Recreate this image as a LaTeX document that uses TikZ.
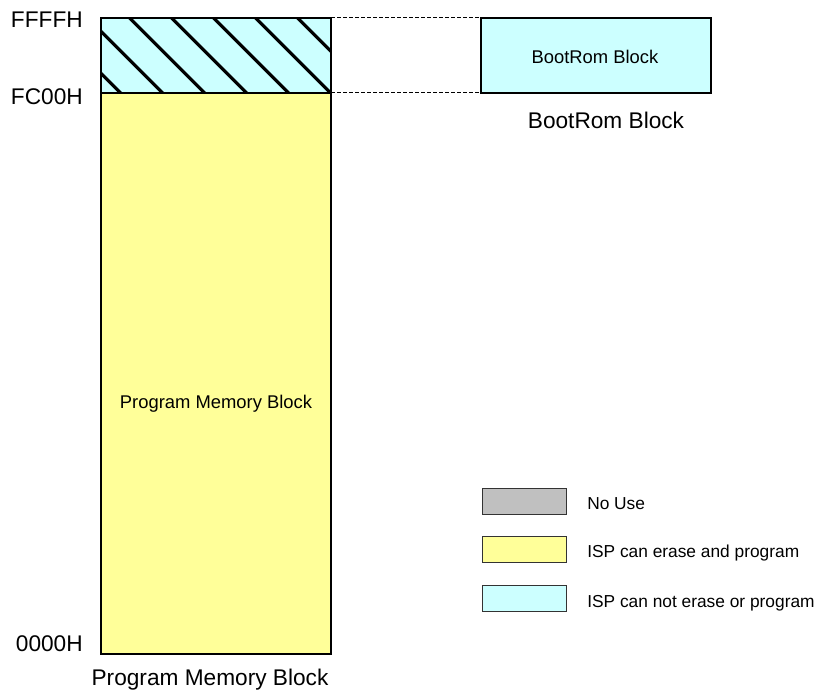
\documentclass[tikz,border=0pt]{standalone}
\usepackage{fontspec}
\setmainfont{Liberation Sans}
\definecolor{romcyan}{HTML}{CCFFFF}
\definecolor{progyellow}{HTML}{FFFF99}
\definecolor{nousegray}{HTML}{C0C0C0}
\begin{document}
\begin{tikzpicture}[x=0.75pt,y=-0.75pt,
  blk/.style={draw=black,line width=1.5pt,inner sep=0pt,outer sep=0pt,anchor=north west},
  hatchline/.style={line width=2.4pt},
  guide/.style={dashed,line width=0.75pt,dash pattern=on 3pt off 1.5pt},
  biglabel/.style={font=\fontsize{17}{20}\selectfont,inner sep=0pt},
  inlabel/.style={font=\fontsize{13.8}{16}\selectfont,inner sep=0pt},
  leglabel/.style={font=\fontsize{13}{15}\selectfont,inner sep=0pt,anchor=base west},
  legbox/.style={draw=black!80,line width=0.75pt,inner sep=0pt,outer sep=0pt,
    minimum width=84*0.75pt,minimum height=26*0.75pt,anchor=north west}]
\useasboundingbox (0,0) rectangle (829,691);
% program memory block (yellow)
\node[blk,fill=progyellow,minimum width=230*0.75pt,minimum height=561*0.75pt] (prog) at (101,93) {};
% hatched bootrom region
\node[blk,fill=romcyan,minimum width=230*0.75pt,minimum height=75*0.75pt] (hatch) at (101,18) {};
\begin{scope}
  \clip (hatch.north west) rectangle (hatch.south east);
  \foreach \c in {-14.3,27.7,...,330} {
    \draw[hatchline] (\c,0) -- (\c+120,120);
  }
\end{scope}
\draw[line width=1.5pt] (hatch.north west) rectangle (hatch.south east);
\draw[line width=1.5pt] (prog.north west) rectangle (prog.south east);
% bootrom block
\node[blk,fill=romcyan,minimum width=230*0.75pt,minimum height=75*0.75pt] (boot) at (481,18) {};
\node[inlabel,anchor=base] (boottxt) at (595,63.3) {BootRom Block};
% dashed guides
\draw[guide] (hatch.north east) -- (boot.north west);
\draw[guide] (hatch.south east) -- (boot.south west);
% address labels
\node[biglabel,anchor=base east] (aFFFF) at (83,28) {FFFFH};
\node[biglabel,anchor=base east] (aFC00) at (83,105) {FC00H};
\node[biglabel,anchor=base east] (a0000) at (83,652) {0000H};
% captions
\node[inlabel,anchor=base] (progtxt) at (216,408.3) {Program Memory Block};
\node[biglabel,anchor=base] (progcap) at (210,686) {Program Memory Block};
\node[biglabel,anchor=base] (bootcap) at (606,129) {BootRom Block};
% legend
\node[legbox,fill=nousegray] (lg1) at (482,489) {};
\node[legbox,fill=progyellow] (lg2) at (482,537) {};
\node[legbox,fill=romcyan] (lg3) at (482,586) {};
\node[leglabel] (lt1) at (587,509.3) {No Use};
\node[leglabel] (lt2) at (587,557.3) {ISP can erase and program};
\node[leglabel] (lt3) at (587,607.3) {ISP can not erase or program};
\end{tikzpicture}
\end{document}
